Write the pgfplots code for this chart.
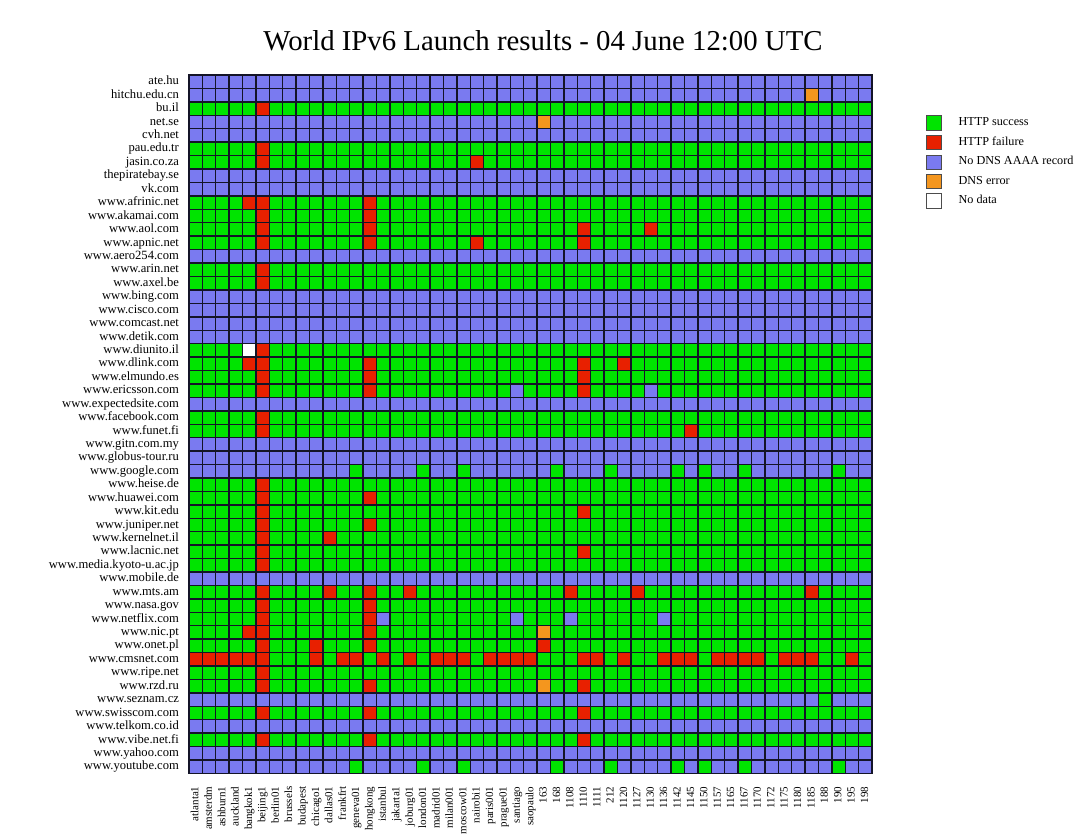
\documentclass[border=0pt]{standalone}
\usepackage{fontspec}
\setmainfont{Liberation Serif}
\usepackage{pgfplots}
\usepackage{pgfplotstable}
\pgfplotsset{compat=1.18}
\definecolor{cg}{RGB}{0,228,0}
\definecolor{cr}{RGB}{232,32,0}
\definecolor{cb}{RGB}{122,122,240}
\definecolor{co}{RGB}{244,150,30}
\definecolor{cw}{RGB}{255,255,255}
\definecolor{cline}{RGB}{20,20,40}
% 0 = HTTP success, 1 = HTTP failure, 2 = No DNS AAAA record, 3 = DNS error, 4 = No data
\pgfplotstableread{
c1 c2 c3 c4 c5 c6 c7 c8 c9 c10 c11 c12 c13 c14 c15 c16 c17 c18 c19 c20 c21 c22 c23 c24 c25 c26 c27 c28 c29 c30 c31 c32 c33 c34 c35 c36 c37 c38 c39 c40 c41 c42 c43 c44 c45 c46 c47 c48 c49 c50 c51
2 2 2 2 2 2 2 2 2 2  2 2 2 2 2 2 2 2 2 2  2 2 2 2 2 2 2 2 2 2  2 2 2 2 2 2 2 2 2 2  2 2 2 2 2 2 2 2 2 2  2
2 2 2 2 2 2 2 2 2 2  2 2 2 2 2 2 2 2 2 2  2 2 2 2 2 2 2 2 2 2  2 2 2 2 2 2 2 2 2 2  2 2 2 2 2 2 3 2 2 2  2
0 0 0 0 0 1 0 0 0 0  0 0 0 0 0 0 0 0 0 0  0 0 0 0 0 0 0 0 0 0  0 0 0 0 0 0 0 0 0 0  0 0 0 0 0 0 0 0 0 0  0
2 2 2 2 2 2 2 2 2 2  2 2 2 2 2 2 2 2 2 2  2 2 2 2 2 2 3 2 2 2  2 2 2 2 2 2 2 2 2 2  2 2 2 2 2 2 2 2 2 2  2
2 2 2 2 2 2 2 2 2 2  2 2 2 2 2 2 2 2 2 2  2 2 2 2 2 2 2 2 2 2  2 2 2 2 2 2 2 2 2 2  2 2 2 2 2 2 2 2 2 2  2
0 0 0 0 0 1 0 0 0 0  0 0 0 0 0 0 0 0 0 0  0 0 0 0 0 0 0 0 0 0  0 0 0 0 0 0 0 0 0 0  0 0 0 0 0 0 0 0 0 0  0
0 0 0 0 0 1 0 0 0 0  0 0 0 0 0 0 0 0 0 0  0 1 0 0 0 0 0 0 0 0  0 0 0 0 0 0 0 0 0 0  0 0 0 0 0 0 0 0 0 0  0
2 2 2 2 2 2 2 2 2 2  2 2 2 2 2 2 2 2 2 2  2 2 2 2 2 2 2 2 2 2  2 2 2 2 2 2 2 2 2 2  2 2 2 2 2 2 2 2 2 2  2
2 2 2 2 2 2 2 2 2 2  2 2 2 2 2 2 2 2 2 2  2 2 2 2 2 2 2 2 2 2  2 2 2 2 2 2 2 2 2 2  2 2 2 2 2 2 2 2 2 2  2
0 0 0 0 1 1 0 0 0 0  0 0 0 1 0 0 0 0 0 0  0 0 0 0 0 0 0 0 0 0  0 0 0 0 0 0 0 0 0 0  0 0 0 0 0 0 0 0 0 0  0
0 0 0 0 0 1 0 0 0 0  0 0 0 1 0 0 0 0 0 0  0 0 0 0 0 0 0 0 0 0  0 0 0 0 0 0 0 0 0 0  0 0 0 0 0 0 0 0 0 0  0
0 0 0 0 0 1 0 0 0 0  0 0 0 1 0 0 0 0 0 0  0 0 0 0 0 0 0 0 0 1  0 0 0 0 1 0 0 0 0 0  0 0 0 0 0 0 0 0 0 0  0
0 0 0 0 0 1 0 0 0 0  0 0 0 1 0 0 0 0 0 0  0 1 0 0 0 0 0 0 0 1  0 0 0 0 0 0 0 0 0 0  0 0 0 0 0 0 0 0 0 0  0
2 2 2 2 2 2 2 2 2 2  2 2 2 2 2 2 2 2 2 2  2 2 2 2 2 2 2 2 2 2  2 2 2 2 2 2 2 2 2 2  2 2 2 2 2 2 2 2 2 2  2
0 0 0 0 0 1 0 0 0 0  0 0 0 0 0 0 0 0 0 0  0 0 0 0 0 0 0 0 0 0  0 0 0 0 0 0 0 0 0 0  0 0 0 0 0 0 0 0 0 0  0
0 0 0 0 0 1 0 0 0 0  0 0 0 0 0 0 0 0 0 0  0 0 0 0 0 0 0 0 0 0  0 0 0 0 0 0 0 0 0 0  0 0 0 0 0 0 0 0 0 0  0
2 2 2 2 2 2 2 2 2 2  2 2 2 2 2 2 2 2 2 2  2 2 2 2 2 2 2 2 2 2  2 2 2 2 2 2 2 2 2 2  2 2 2 2 2 2 2 2 2 2  2
2 2 2 2 2 2 2 2 2 2  2 2 2 2 2 2 2 2 2 2  2 2 2 2 2 2 2 2 2 2  2 2 2 2 2 2 2 2 2 2  2 2 2 2 2 2 2 2 2 2  2
2 2 2 2 2 2 2 2 2 2  2 2 2 2 2 2 2 2 2 2  2 2 2 2 2 2 2 2 2 2  2 2 2 2 2 2 2 2 2 2  2 2 2 2 2 2 2 2 2 2  2
2 2 2 2 2 2 2 2 2 2  2 2 2 2 2 2 2 2 2 2  2 2 2 2 2 2 2 2 2 2  2 2 2 2 2 2 2 2 2 2  2 2 2 2 2 2 2 2 2 2  2
0 0 0 0 4 1 0 0 0 0  0 0 0 0 0 0 0 0 0 0  0 0 0 0 0 0 0 0 0 0  0 0 0 0 0 0 0 0 0 0  0 0 0 0 0 0 0 0 0 0  0
0 0 0 0 1 1 0 0 0 0  0 0 0 1 0 0 0 0 0 0  0 0 0 0 0 0 0 0 0 1  0 0 1 0 0 0 0 0 0 0  0 0 0 0 0 0 0 0 0 0  0
0 0 0 0 0 1 0 0 0 0  0 0 0 1 0 0 0 0 0 0  0 0 0 0 0 0 0 0 0 1  0 0 0 0 0 0 0 0 0 0  0 0 0 0 0 0 0 0 0 0  0
0 0 0 0 0 1 0 0 0 0  0 0 0 1 0 0 0 0 0 0  0 0 0 0 2 0 0 0 0 1  0 0 0 0 2 0 0 0 0 0  0 0 0 0 0 0 0 0 0 0  0
2 2 2 2 2 2 2 2 2 2  2 2 2 2 2 2 2 2 2 2  2 2 2 2 2 2 2 2 2 2  2 2 2 2 2 2 2 2 2 2  2 2 2 2 2 2 2 2 2 2  2
0 0 0 0 0 1 0 0 0 0  0 0 0 0 0 0 0 0 0 0  0 0 0 0 0 0 0 0 0 0  0 0 0 0 0 0 0 0 0 0  0 0 0 0 0 0 0 0 0 0  0
0 0 0 0 0 1 0 0 0 0  0 0 0 0 0 0 0 0 0 0  0 0 0 0 0 0 0 0 0 0  0 0 0 0 0 0 0 1 0 0  0 0 0 0 0 0 0 0 0 0  0
2 2 2 2 2 2 2 2 2 2  2 2 2 2 2 2 2 2 2 2  2 2 2 2 2 2 2 2 2 2  2 2 2 2 2 2 2 2 2 2  2 2 2 2 2 2 2 2 2 2  2
2 2 2 2 2 2 2 2 2 2  2 2 2 2 2 2 2 2 2 2  2 2 2 2 2 2 2 2 2 2  2 2 2 2 2 2 2 2 2 2  2 2 2 2 2 2 2 2 2 2  2
2 2 2 2 2 2 2 2 2 2  2 2 0 2 2 2 2 0 2 2  0 2 2 2 2 2 2 0 2 2  2 0 2 2 2 2 0 2 0 2  2 0 2 2 2 2 2 2 0 2  2
0 0 0 0 0 1 0 0 0 0  0 0 0 0 0 0 0 0 0 0  0 0 0 0 0 0 0 0 0 0  0 0 0 0 0 0 0 0 0 0  0 0 0 0 0 0 0 0 0 0  0
0 0 0 0 0 1 0 0 0 0  0 0 0 1 0 0 0 0 0 0  0 0 0 0 0 0 0 0 0 0  0 0 0 0 0 0 0 0 0 0  0 0 0 0 0 0 0 0 0 0  0
0 0 0 0 0 1 0 0 0 0  0 0 0 0 0 0 0 0 0 0  0 0 0 0 0 0 0 0 0 1  0 0 0 0 0 0 0 0 0 0  0 0 0 0 0 0 0 0 0 0  0
0 0 0 0 0 1 0 0 0 0  0 0 0 1 0 0 0 0 0 0  0 0 0 0 0 0 0 0 0 0  0 0 0 0 0 0 0 0 0 0  0 0 0 0 0 0 0 0 0 0  0
0 0 0 0 0 1 0 0 0 0  1 0 0 0 0 0 0 0 0 0  0 0 0 0 0 0 0 0 0 0  0 0 0 0 0 0 0 0 0 0  0 0 0 0 0 0 0 0 0 0  0
0 0 0 0 0 1 0 0 0 0  0 0 0 0 0 0 0 0 0 0  0 0 0 0 0 0 0 0 0 1  0 0 0 0 0 0 0 0 0 0  0 0 0 0 0 0 0 0 0 0  0
0 0 0 0 0 1 0 0 0 0  0 0 0 0 0 0 0 0 0 0  0 0 0 0 0 0 0 0 0 0  0 0 0 0 0 0 0 0 0 0  0 0 0 0 0 0 0 0 0 0  0
2 2 2 2 2 2 2 2 2 2  2 2 2 2 2 2 2 2 2 2  2 2 2 2 2 2 2 2 2 2  2 2 2 2 2 2 2 2 2 2  2 2 2 2 2 2 2 2 2 2  2
0 0 0 0 0 1 0 0 0 0  1 0 0 1 0 0 1 0 0 0  0 0 0 0 0 0 0 0 1 0  0 0 0 1 0 0 0 0 0 0  0 0 0 0 0 0 1 0 0 0  0
0 0 0 0 0 1 0 0 0 0  0 0 0 1 0 0 0 0 0 0  0 0 0 0 0 0 0 0 0 0  0 0 0 0 0 0 0 0 0 0  0 0 0 0 0 0 0 0 0 0  0
0 0 0 0 0 1 0 0 0 0  0 0 0 1 2 0 0 0 0 0  0 0 0 0 2 0 0 0 2 0  0 0 0 0 0 2 0 0 0 0  0 0 0 0 0 0 0 0 0 0  0
0 0 0 0 1 1 0 0 0 0  0 0 0 1 0 0 0 0 0 0  0 0 0 0 0 0 3 0 0 0  0 0 0 0 0 0 0 0 0 0  0 0 0 0 0 0 0 0 0 0  0
0 0 0 0 0 1 0 0 0 1  0 0 0 1 0 0 0 0 0 0  0 0 0 0 0 0 1 0 0 0  0 0 0 0 0 0 0 0 0 0  0 0 0 0 0 0 0 0 0 0  0
1 1 1 1 1 1 0 0 0 1  0 1 1 0 1 0 1 0 1 1  1 0 1 1 1 1 0 0 0 1  1 0 1 0 0 1 1 1 0 1  1 1 1 0 1 1 1 0 0 1  0
0 0 0 0 0 1 0 0 0 0  0 0 0 0 0 0 0 0 0 0  0 0 0 0 0 0 0 0 0 0  0 0 0 0 0 0 0 0 0 0  0 0 0 0 0 0 0 0 0 0  0
0 0 0 0 0 1 0 0 0 0  0 0 0 1 0 0 0 0 0 0  0 0 0 0 0 0 3 0 0 1  0 0 0 0 0 0 0 0 0 0  0 0 0 0 0 0 0 0 0 0  0
2 2 2 2 2 2 2 2 2 2  2 2 2 2 2 2 2 2 2 2  2 2 2 2 2 2 2 2 2 2  2 2 2 2 2 2 2 2 2 2  2 2 2 2 2 2 2 0 2 2  2
0 0 0 0 0 1 0 0 0 0  0 0 0 1 0 0 0 0 0 0  0 0 0 0 0 0 0 0 0 1  0 0 0 0 0 0 0 0 0 0  0 0 0 0 0 0 0 0 0 0  0
2 2 2 2 2 2 2 2 2 2  2 2 2 2 2 2 2 2 2 2  2 2 2 2 2 2 2 2 2 2  2 2 2 2 2 2 2 2 2 2  2 2 2 2 2 2 2 2 2 2  2
0 0 0 0 0 1 0 0 0 0  0 0 0 1 0 0 0 0 0 0  0 0 0 0 0 0 0 0 0 1  0 0 0 0 0 0 0 0 0 0  0 0 0 0 0 0 0 0 0 0  0
2 2 2 2 2 2 2 2 2 2  2 2 2 2 2 2 2 2 2 2  2 2 2 2 2 2 2 2 2 2  2 2 2 2 2 2 2 2 2 2  2 2 2 2 2 2 2 2 2 2  2
2 2 2 2 2 2 2 2 2 2  2 2 0 2 2 2 2 0 2 2  0 2 2 2 2 2 2 0 2 2  2 0 2 2 2 2 0 2 0 2  2 0 2 2 2 2 2 2 0 2  2
}\grid

\begin{document}
\begin{tikzpicture}
\begin{axis}[
  at={(94.5pt,33.25pt)}, anchor=south west,
  scale only axis, width=341.5pt, height=349.25pt,
  xmin=0.5, xmax=51.5, ymin=0.5, ymax=52.5,
  y dir=reverse, clip=false,
  axis line style={cline, line width=0.7pt},
  xtick={1,...,51}, ytick={1,...,52},
  major tick length=0pt, tick style={draw=none},
  yticklabel style={font=\fontsize{6.3}{7}\selectfont, text height=4.4pt, text depth=1.3pt},
  xticklabel style={font=\fontsize{5.5}{6}\selectfont, rotate=90, anchor=east, text height=3.9pt, text depth=1.1pt},
  xticklabel shift=3pt, yticklabel shift=1.5pt,
  xticklabels={atlanta1,amsterdm,ashburn1,auckland,bangkok1,beijing1,berlin01,brussels,budapest,chicago1,dallas01,frankfrt,geneva01,hongkong,istanbul,jakarta1,joburg01,london01,madrid01,milan001,moscow01,nairobi1,paris001,prague01,santiago,saopaulo,163,168,1108,1110,1111,212,1120,1127,1130,1136,1142,1145,1150,1157,1165,1167,1170,1172,1175,1180,1185,188,190,195,198},
  yticklabels={ate.hu,hitchu.edu.cn,bu.il,net.se,cvh.net,pau.edu.tr,jasin.co.za,thepiratebay.se,vk.com,www.afrinic.net,www.akamai.com,www.aol.com,www.apnic.net,www.aero254.com,www.arin.net,www.axel.be,www.bing.com,www.cisco.com,www.comcast.net,www.detik.com,www.diunito.il,www.dlink.com,www.elmundo.es,www.ericsson.com,www.expectedsite.com,www.facebook.com,www.funet.fi,www.gitn.com.my,www.globus-tour.ru,www.google.com,www.heise.de,www.huawei.com,www.kit.edu,www.juniper.net,www.kernelnet.il,www.lacnic.net,www.media.kyoto-u.ac.jp,www.mobile.de,www.mts.am,www.nasa.gov,www.netflix.com,www.nic.pt,www.onet.pl,www.cmsnet.com,www.ripe.net,www.rzd.ru,www.seznam.cz,www.swisscom.com,www.telkom.co.id,www.vibe.net.fi,www.yahoo.com,www.youtube.com},
  every axis title/.style={at={(axis description cs:0.5,1)}, anchor=base, yshift=12.5pt, xshift=6.25pt, font=\fontsize{14.4}{16}\selectfont},
  title={World IPv6 Launch results - 04 June 12:00 UTC},
  legend style={at={(axis description cs:1,1)}, anchor=north west, xshift=27pt, yshift=-19pt,
    draw=none, fill=none, inner sep=0pt, row sep=0.1pt,
    font=\fontsize{6.1}{7}\selectfont,
    /tikz/every odd column/.append style={column sep=6.5pt}},
  legend cell align=left,
]
\pgfplotsinvokeforeach{1,...,51}{
  \addplot[scatter, only marks, mark=square*, mark size=3.35pt, forget plot,
    scatter src=explicit symbolic,
    scatter/classes={
      0={fill=cg, draw=cline, line width=0.7pt},
      1={fill=cr, draw=cline, line width=0.7pt},
      2={fill=cb, draw=cline, line width=0.7pt},
      3={fill=co, draw=cline, line width=0.7pt},
      4={fill=cw, draw=cline, line width=0.7pt}}]
    table[x expr=#1, y expr=\coordindex+1, meta=c#1] {\grid};
}
\addlegendimage{legend image code/.code={\draw[fill=cg,draw=black!70] (0pt,-3.6pt) rectangle (7.2pt,3.6pt);}}
\addlegendentry{HTTP success}
\addlegendimage{legend image code/.code={\draw[fill=cr,draw=black!70] (0pt,-3.6pt) rectangle (7.2pt,3.6pt);}}
\addlegendentry{HTTP failure}
\addlegendimage{legend image code/.code={\draw[fill=cb,draw=black!70] (0pt,-3.6pt) rectangle (7.2pt,3.6pt);}}
\addlegendentry{No DNS AAAA record}
\addlegendimage{legend image code/.code={\draw[fill=co,draw=black!70] (0pt,-3.6pt) rectangle (7.2pt,3.6pt);}}
\addlegendentry{DNS error}
\addlegendimage{legend image code/.code={\draw[fill=cw,draw=black!70] (0pt,-3.6pt) rectangle (7.2pt,3.6pt);}}
\addlegendentry{No data}
\end{axis}
\pgfresetboundingbox
\path (0,0) rectangle (544.5pt,420pt);
\end{tikzpicture}
\end{document}
